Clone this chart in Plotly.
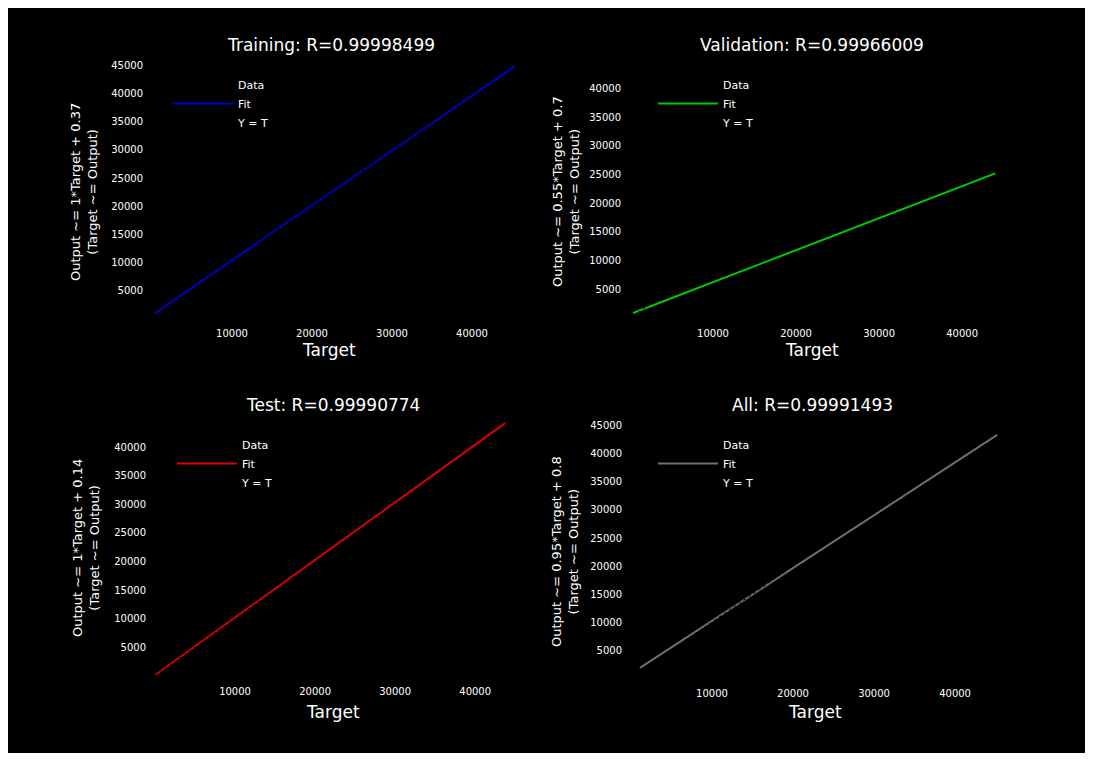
import plotly.graph_objects as go

# figure sits at (8, 8) inside the page (default body margin)
OX, OY = 8, 8
W, H = 1080, 745

# ---------------- data ----------------
titles = ["Training: R=0.99998499", "Validation: R=0.99966009",
          "Test: R=0.99990774", "All: R=0.99991493"]
ylabels = ["Output ~= 1*Target + 0.37", "Output ~= 0.55*Target + 0.7",
           "Output ~= 1*Target + 0.14", "Output ~= 0.95*Target + 0.8"]
fit_colors = ["#0000cc", "#00cc00", "#dd0000", "#6e6e6e"]

train_target = [400, 45400]
train_output = [900, 45000]
val_target = [360, 44000]
val_output = [870, 25200]
test_target = [0, 43750]
test_output = [150, 44200]
all_target = [1100, 45200]
all_output = [1800, 43400]

x_ticks = [10000, 20000, 30000, 40000]
y_ticks_train = [5000, 10000, 15000, 20000, 25000, 30000, 35000, 40000, 45000]
y_ticks_val = [5000, 10000, 15000, 20000, 25000, 30000, 35000, 40000]
y_ticks_test = [5000, 10000, 15000, 20000, 25000, 30000, 35000, 40000]
y_ticks_all = [5000, 10000, 15000, 20000, 25000, 30000, 35000, 40000, 45000]

legend_names = ["Data", "Fit", "Y = T"]

# ---------------- layout helpers (screen px -> paper fraction) ----------------
def fx(p):
    return (p - OX) / W

def fy(p):
    return 1 - (p - OY) / H

panels = [
    dict(target=train_target, output=train_output, yt=y_ticks_train,
         xd=(152, 518), yd=(318, 60), xr=[0, 45750], yr=[0, 46070],
         title=(331, 45), xt=(329, 350), yl=(84, 192), leg=(168, 70)),
    dict(target=val_target, output=val_output, yt=y_ticks_val,
         xd=(630, 997), yd=(318, 62), xr=[0, 44200], yr=[0, 44600],
         title=(812, 45), xt=(812, 350), yl=(566, 192), leg=(653, 70)),
    dict(target=test_target, output=test_output, yt=y_ticks_test,
         xd=(155, 508), yd=(676, 420), xr=[0, 44100], yr=[0, 44750],
         title=(333, 405), xt=(333, 712), yl=(86, 548), leg=(172, 430)),
    dict(target=all_target, output=all_output, yt=y_ticks_all,
         xd=(631, 998), yd=(678, 420), xr=[0, 45300], yr=[0, 46070],
         title=(812, 405), xt=(815, 712), yl=(565, 552), leg=(653, 430)),
]

fig = go.Figure()
font_main = "DejaVu Sans"
annotations = []
layout = {}

for i, p in enumerate(panels):
    n = "" if i == 0 else str(i + 1)
    xa, ya = "x" + n, "y" + n
    lg = "legend" + n
    # Data (black circles -> invisible on black)
    fig.add_trace(go.Scatter(x=p["target"], y=p["output"], mode="markers",
                             marker=dict(symbol="circle-open", color="black", size=6),
                             name=legend_names[0], xaxis=xa, yaxis=ya, legend=lg))
    # Fit
    fig.add_trace(go.Scatter(x=p["target"], y=p["output"], mode="lines",
                             line=dict(color=fit_colors[i], width=2),
                             name=legend_names[1], xaxis=xa, yaxis=ya, legend=lg))
    # Y = T (dotted black)
    fig.add_trace(go.Scatter(x=p["target"], y=p["target"], mode="lines",
                             line=dict(color="black", width=1, dash="dot"),
                             name=legend_names[2], xaxis=xa, yaxis=ya, legend=lg))

    layout["xaxis" + n] = dict(domain=[fx(p["xd"][0]), fx(p["xd"][1])], range=p["xr"],
                               anchor=ya, tickvals=x_ticks, ticktext=[str(v) for v in x_ticks],
                               showgrid=False, zeroline=False, showline=False,
                               ticks="outside", ticklen=6, tickcolor="black",
                               tickfont=dict(color="white", size=10, family=font_main))
    layout["yaxis" + n] = dict(domain=[fy(p["yd"][0]), fy(p["yd"][1])], range=p["yr"],
                               anchor=xa, tickvals=p["yt"], ticktext=[str(v) for v in p["yt"]],
                               showgrid=False, zeroline=False, showline=False,
                               ticks="outside", ticklen=6, tickcolor="black",
                               tickfont=dict(color="white", size=10, family=font_main))
    layout[lg] = dict(x=fx(p["leg"][0]), y=fy(p["leg"][1]), xanchor="left", yanchor="top",
                      bgcolor="rgba(0,0,0,0)", itemwidth=60,
                      font=dict(color="white", size=11, family=font_main),
                      tracegroupgap=0)

    annotations.append(dict(x=fx(p["title"][0]), y=fy(p["title"][1]), xref="paper", yref="paper",
                            text=titles[i], showarrow=False, xanchor="center", yanchor="middle",
                            font=dict(color="white", size=17, family=font_main)))
    annotations.append(dict(x=fx(p["xt"][0]), y=fy(p["xt"][1]), xref="paper", yref="paper",
                            text="Target", showarrow=False, xanchor="center", yanchor="middle",
                            font=dict(color="white", size=17, family=font_main)))
    annotations.append(dict(x=fx(p["yl"][0]), y=fy(p["yl"][1]), xref="paper", yref="paper",
                            text=ylabels[i] + "<br>" + "(Target ~= Output)", showarrow=False,
                            textangle=-90, xanchor="center", yanchor="middle",
                            font=dict(color="white", size=13, family=font_main)))

fig.update_layout(
    width=W, height=H,
    margin=dict(l=0, r=0, t=0, b=0),
    paper_bgcolor="black",
    plot_bgcolor="black",
    showlegend=True,
    annotations=annotations,
    **layout,
)

fig.write_html("out.html")
